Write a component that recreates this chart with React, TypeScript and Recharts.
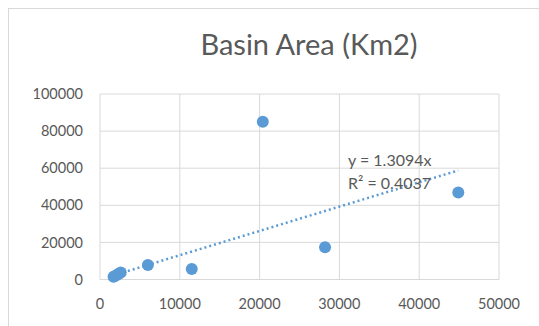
import React from "react";
import {
  ScatterChart, Scatter, XAxis, YAxis, CartesianGrid,
} from "recharts";

// Basin area observations (x, y)
const xValues = [1700, 2000, 2300, 2600, 6000, 11500, 20400, 28200, 44900];
const yValues = [1500, 2200, 3000, 3800, 7800, 5700, 85000, 17400, 46900];

const xTicks = [0, 10000, 20000, 30000, 40000, 50000];
const yTicks = [0, 20000, 40000, 60000, 80000, 100000];

// Linear trendline through origin, as shown on the chart
const slope = 1.3094;
const rSquared = "0.4037";

const points = xValues.map((x, i) => ({ x, y: yValues[i] }));
const trendX = [Math.min(...xValues), Math.max(...xValues)];
const trend = trendX.map((x) => ({ x, y: slope * x }));

const BLUE = "#5B9BD5";
const TEXT = "#595959";
const FONT = "Lato, 'Open Sans', sans-serif";

export default function App() {
  return (
    <div style={{ position: "absolute", left: 0, top: 0, width: 539, height: 326, background: "#fff", fontFamily: FONT }}>
      <div style={{
        position: "absolute", left: 8, top: 8, width: 540, height: 330,
        border: "1px solid #D9D9D9", boxSizing: "border-box",
      }} />
      <div style={{
        position: "absolute", left: 0, width: 618, top: 26, textAlign: "center",
        fontSize: 29, color: TEXT, lineHeight: "36px",
      }}>
        Basin Area (Km2)
      </div>
      <ScatterChart
        width={539}
        height={326}
        margin={{ top: 94, right: 40, bottom: 0, left: 0 }}
        style={{ position: "absolute", left: 0, top: 0 }}
      >
        <CartesianGrid stroke="#D9D9D9" strokeWidth={1} />
        <XAxis
          type="number"
          dataKey="x"
          domain={[0, 50000]}
          ticks={xTicks}
          axisLine={false}
          tickLine={false}
          tickSize={0}
          tickMargin={19}
          height={46.5}
          tick={{ fill: TEXT, fontSize: 14.5, fontFamily: FONT }}
        />
        <YAxis
          type="number"
          dataKey="y"
          domain={[0, 100000]}
          ticks={yTicks}
          axisLine={false}
          tickLine={false}
          tickSize={0}
          tickMargin={17}
          width={100}
          tick={{ fill: TEXT, fontSize: 14.5, fontFamily: FONT }}
        />
        <Scatter
          data={trend}
          isAnimationActive={false}
          line={{ stroke: BLUE, strokeWidth: 2.5, strokeDasharray: "2 3" }}
          shape={() => <g />}
        />
        <Scatter
          data={points}
          isAnimationActive={false}
          shape={(p: any) => <circle cx={p.cx} cy={p.cy} r={6} fill={BLUE} />}
        />
      </ScatterChart>
      <div style={{ position: "absolute", left: 348, top: 150, fontSize: 16, color: TEXT, lineHeight: "20px" }}>
        y = {slope}x
      </div>
      <div style={{ position: "absolute", left: 348, top: 173, fontSize: 16, color: TEXT, lineHeight: "20px" }}>
        R² = {rSquared}
      </div>
    </div>
  );
}
